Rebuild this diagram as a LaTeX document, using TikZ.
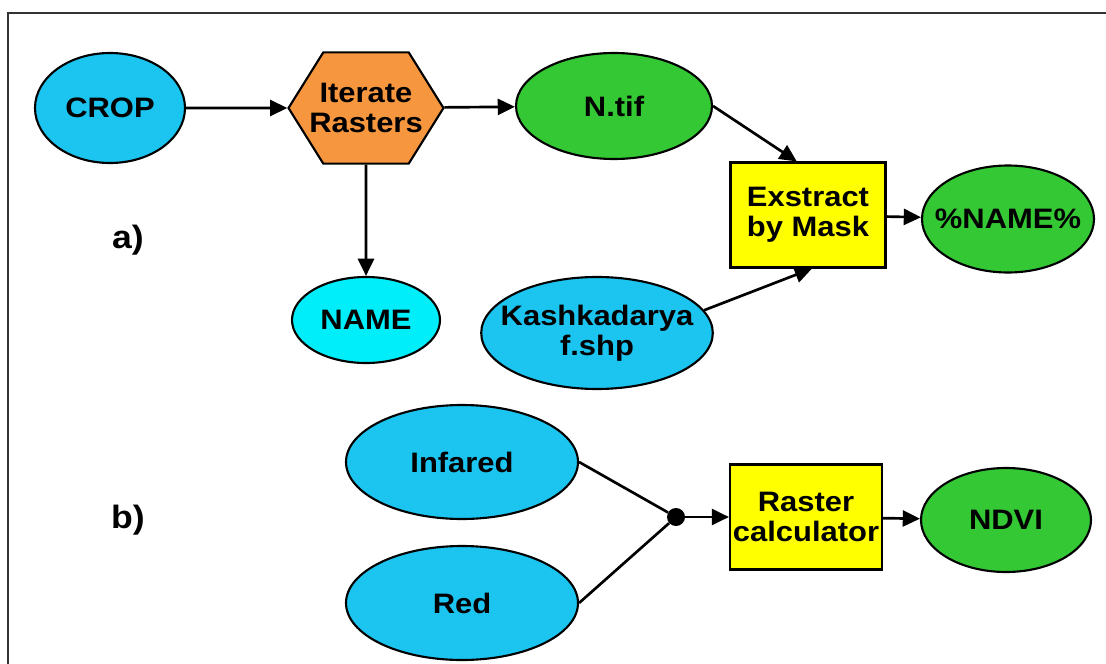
\documentclass[tikz,border=0pt]{standalone}
\usepackage{fontspec}
\setmainfont{Liberation Sans}[FakeStretch=1.1]
\usetikzlibrary{shapes.geometric,shapes.symbols,arrows.meta}

\definecolor{inblue}{RGB}{28,196,240}
\definecolor{namecyan}{RGB}{0,238,250}
\definecolor{outgreen}{RGB}{52,200,52}
\definecolor{toolorange}{RGB}{246,150,62}
\definecolor{toolyellow}{RGB}{255,255,0}

\begin{document}
\begin{tikzpicture}[font=\fontsize{20}{21.5}\selectfont\bfseries, >={Triangle[length=0.43cm,width=0.4cm]},
  data/.style={ellipse, draw=black, line width=1.5pt, inner sep=0pt, align=center},
  tool/.style={rectangle, draw=black, line width=1.5pt, fill=toolyellow, inner sep=0pt, align=center},
  link/.style={line width=1.9pt}]
  \useasboundingbox (0,0) rectangle (27.65,-16.6);
  % open frame, cut at the page edge
  \draw[line width=2pt, black!80] (0.2,-17) -- (0.2,-0.325) -- (28,-0.325);

  % a) iterate and clip
  \node[data, fill=inblue, minimum width=3.75cm, minimum height=2.75cm] (crop) at (2.75,-2.7) {CROP};
  \node[shape=signal, signal to=east and west, signal pointer angle=116, draw=black, line width=1.5pt,
        fill=toolorange, inner xsep=-0.35cm, inner ysep=0pt, align=center, minimum height=2.78cm] (iter) at (9.15,-2.7) {Iterate\\Rasters};
  \node[data, fill=outgreen, minimum width=4.9cm, minimum height=2.65cm] (ntif) at (15.35,-2.65) {N.tif};
  \node[tool, minimum width=3.875cm, minimum height=2.625cm] (mask) at (20.2,-5.375) {Exstract\\by Mask};
  \node[data, fill=outgreen, inner xsep=-0.45cm, minimum width=4.3cm, minimum height=2.675cm] (outname) at (25.2,-5.475) {\%NAME\%};
  \node[data, fill=namecyan, minimum width=3.7cm, minimum height=2.15cm] (name) at (9.15,-8.0) {NAME};
  \node[data, fill=inblue, inner xsep=-0.36cm, minimum width=5.75cm, minimum height=2.8cm] (kash) at (14.925,-8.325) {Kashkadarya\\f.shp};
  \node[font=\fontsize{23}{24}\selectfont\bfseries] (parta) at (3.2,-6.0) {a)};

  \draw[link, ->] (crop) -- (iter);
  \draw[link, ->] (iter) -- (ntif);
  \draw[link, ->] (iter) -- (name);
  \draw[link, ->] (ntif.east) -- ([xshift=-0.28cm]mask.north);
  \draw[link, ->] (kash.12) -- ([xshift=0.1cm]mask.south);
  \draw[link, ->] (mask) -- (outname);

  % b) NDVI
  \node[data, fill=inblue, minimum width=5.8cm, minimum height=2.85cm] (infared) at (11.55,-11.55) {Infared};
  \node[data, fill=inblue, minimum width=5.8cm, minimum height=2.85cm] (red) at (11.55,-15.075) {Red};
  \node[circle, fill=black, inner sep=0pt, minimum size=0.45cm] (join) at (16.9,-12.925) {};
  \node[tool, minimum width=3.8cm, minimum height=2.625cm] (calc) at (20.15,-12.925) {Raster\\calculator};
  \node[data, fill=outgreen, minimum width=4.25cm, minimum height=2.6cm] (ndvi) at (25.15,-13.0) {NDVI};
  \node[font=\fontsize{23}{24}\selectfont\bfseries] (partb) at (3.2,-13.0) {b)};

  \draw[link] (infared.east) -- (join);
  \draw[link] (red.east) -- (join);
  \draw[link, ->] (join) -- (calc);
  \draw[link, ->] (calc) -- (ndvi);
\end{tikzpicture}
\end{document}
